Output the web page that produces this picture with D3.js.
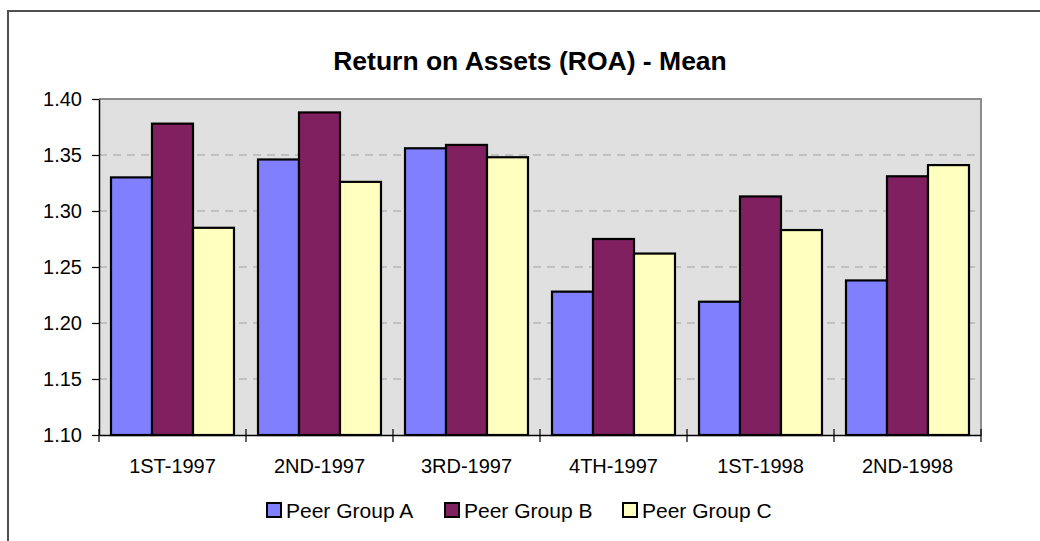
<!DOCTYPE html>
<html>
<head>
<meta charset="utf-8">
<script src="https://cdn.jsdelivr.net/npm/d3@7"></script>
<style>
  html, body { margin: 0; padding: 0; background: #ffffff; }
  svg { display: block; font-family: Arial, "Liberation Sans", sans-serif; }
</style>
</head>
<body>
<svg id="chart" width="1040" height="541"></svg>
<script>
// ---- data ----
const title = "Return on Assets (ROA) - Mean";
const categories = ["1ST-1997", "2ND-1997", "3RD-1997", "4TH-1997", "1ST-1998", "2ND-1998"];
const seriesNames = ["Peer Group A", "Peer Group B", "Peer Group C"];
const peerGroupA = [1.330, 1.346, 1.356, 1.228, 1.219, 1.238];
const peerGroupB = [1.378, 1.388, 1.359, 1.275, 1.313, 1.331];
const peerGroupC = [1.285, 1.326, 1.348, 1.262, 1.283, 1.341];
const yTicks = [1.10, 1.15, 1.20, 1.25, 1.30, 1.35, 1.40];
const colors = ["#8080FF", "#802060", "#FFFFC0"];

const seriesValues = [peerGroupA, peerGroupB, peerGroupC];

// ---- layout ----
const svg = d3.select("#chart");
const plot = { left: 99, right: 981, top: 99, bottom: 435 };

// outer chart-area border (extends beyond the visible window)
svg.append("rect")
  .attr("x", 8).attr("y", 11)
  .attr("width", 1100).attr("height", 600)
  .attr("fill", "none").attr("stroke", "#505050").attr("stroke-width", 2);

const x0 = d3.scaleBand().domain(categories).range([plot.left, plot.right]).padding(0);
const x1 = d3.scaleBand().domain(seriesNames).range([0, x0.bandwidth()])
  .paddingInner(0).paddingOuter(0.293);
const y = d3.scaleLinear().domain([1.10, 1.40]).range([plot.bottom, plot.top]);

// plot background
svg.append("rect")
  .attr("x", plot.left).attr("y", plot.top)
  .attr("width", plot.right - plot.left).attr("height", plot.bottom - plot.top)
  .attr("fill", "#E0E0E0");

// gridlines
svg.append("g").selectAll("line")
  .data(yTicks.filter(t => t > 1.10 && t < 1.40))
  .join("line")
  .attr("x1", plot.left).attr("x2", plot.right)
  .attr("y1", d => y(d)).attr("y2", d => y(d))
  .attr("stroke", "#A0A0A0").attr("stroke-width", 1.2)
  .attr("stroke-dasharray", "8,6");

// plot border (top and right, gray)
svg.append("path")
  .attr("d", `M${plot.left},${plot.top}H${plot.right}V${plot.bottom}`)
  .attr("fill", "none").attr("stroke", "#8C8C8C").attr("stroke-width", 2);

// bars
const rows = categories.map((c, i) => ({ cat: c, vals: seriesNames.map((s, j) => ({ s, j, v: seriesValues[j][i] })) }));
svg.append("g").selectAll("g")
  .data(rows)
  .join("g")
  .attr("transform", d => `translate(${x0(d.cat)},0)`)
  .selectAll("rect")
  .data(d => d.vals)
  .join("rect")
  .attr("x", d => x1(d.s))
  .attr("width", x1.bandwidth())
  .attr("y", d => y(d.v))
  .attr("height", d => y(1.10) - y(d.v))
  .attr("fill", d => colors[d.j])
  .attr("stroke", "#000").attr("stroke-width", 2.2);

// y axis
const yAxis = svg.append("g")
  .attr("transform", `translate(${plot.left},0)`)
  .call(d3.axisLeft(y).tickValues(yTicks).tickFormat(d3.format(".2f"))
    .tickSize(7).tickSizeOuter(0).tickPadding(10));
yAxis.select(".domain").attr("stroke", "#000").attr("stroke-width", 1.5);
yAxis.selectAll(".tick line").attr("stroke", "#000").attr("stroke-width", 1.2);
yAxis.selectAll("text").attr("font-size", "20px").attr("fill", "#000")
  .attr("font-family", "Arial, 'Liberation Sans', sans-serif");

// x axis
const xAxis = svg.append("g")
  .attr("transform", `translate(0,${plot.bottom})`)
  .call(d3.axisBottom(x0).tickSize(0).tickSizeOuter(0).tickPadding(24));
xAxis.select(".domain").attr("stroke", "#000").attr("stroke-width", 1.5);
xAxis.selectAll("text").attr("font-size", "20px").attr("fill", "#000")
  .attr("font-family", "Arial, 'Liberation Sans', sans-serif");

// category boundary tick marks (cross style)
const boundaries = categories.map(c => x0(c)).concat([x0(categories[categories.length - 1]) + x0.bandwidth()]);
svg.append("g").selectAll("line")
  .data(boundaries)
  .join("line")
  .attr("x1", d => d).attr("x2", d => d)
  .attr("y1", plot.bottom - 6).attr("y2", plot.bottom + 7)
  .attr("stroke", "#000").attr("stroke-width", 1.2);

// title
svg.append("text")
  .attr("x", 530).attr("y", 70)
  .attr("text-anchor", "middle")
  .attr("font-size", "26.5px").attr("font-weight", "bold")
  .text(title);

// legend
const legendX = [266, 444, 622];
const leg = svg.append("g").selectAll("g")
  .data(seriesNames)
  .join("g")
  .attr("transform", (d, i) => `translate(${legendX[i]},502)`);
leg.append("rect")
  .attr("x", 1).attr("y", 1).attr("width", 14).attr("height", 14)
  .attr("fill", (d, i) => colors[i]).attr("stroke", "#000").attr("stroke-width", 2);
leg.append("text")
  .attr("x", 20).attr("y", 16)
  .attr("font-size", "21px")
  .text(d => d);
</script>
</body>
</html>
